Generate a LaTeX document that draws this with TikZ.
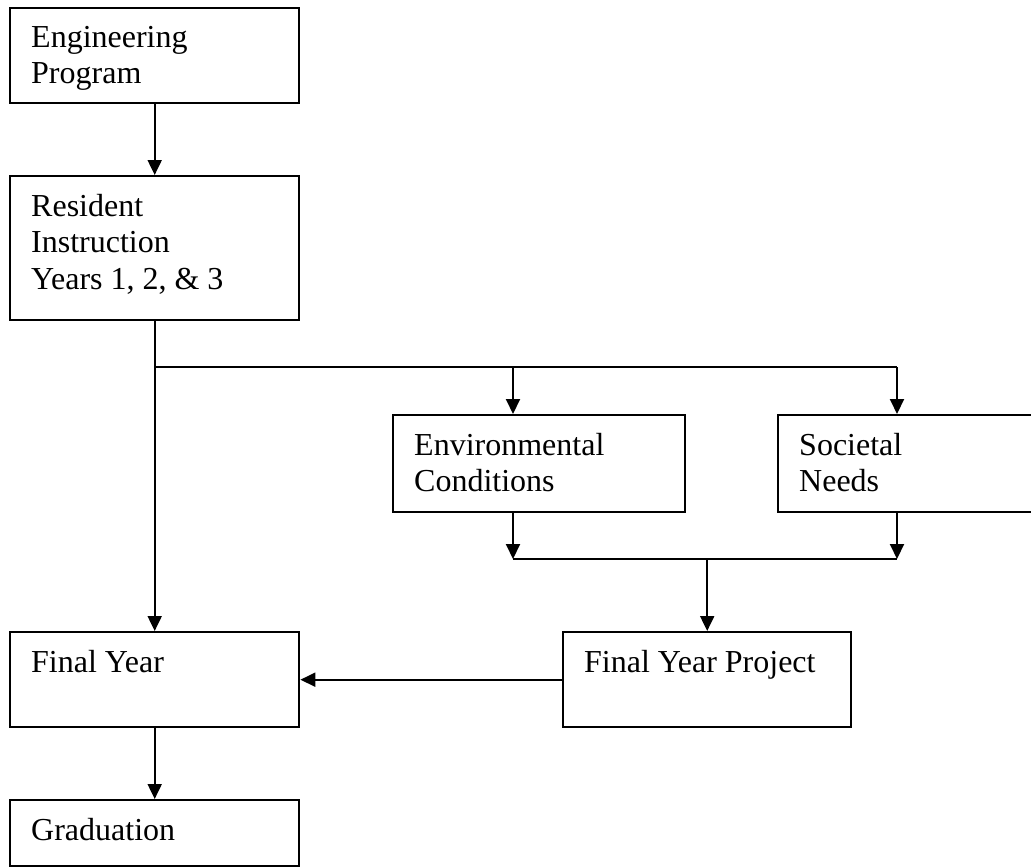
\documentclass[tikz,border=0pt]{standalone}
\usepackage{fontspec}
\setmainfont{Liberation Serif}
\usepackage{tikz}
\usetikzlibrary{positioning,calc,arrows.meta}

% text block inside a box: width, height, text
\newcommand{\blktext}[3]{\parbox[c][#2][t]{#1}{\raggedright #3}}

\tikzset{
    blk/.style={draw, line width=2.4pt, anchor=north west, inner xsep=21pt, inner ysep=18pt,
        font=\fontsize{32}{36.5}\selectfont},
    conn/.style={line width=2pt},
    arr/.style={conn, -{Triangle[length=15pt,width=14pt]}}
}

\begin{document}
\begin{tikzpicture}[x=1pt,y=-1pt]
    \path[use as bounding box, fill=white] (0,0) rectangle (1031,867);

    % Boxes
    \node[blk] (eng)  at (9,7)     {\blktext{247pt}{59pt}{Engineering\\Program}};
    \node[blk] (res)  at (9,175)   {\blktext{247pt}{108pt}{Resident\\Instruction\\Years 1, 2, \& 3}};
    \node[blk] (env)  at (392,414) {\blktext{250pt}{61pt}{Environmental\\Conditions}};
    \node[blk] (soc)  at (777,414) {\blktext{212pt}{61pt}{Societal\\Needs}};
    \node[blk] (fy)   at (9,631)   {\blktext{247pt}{59pt}{Final Year}};
    \node[blk] (fyp)  at (562,631) {\blktext{246pt}{59pt}{Final Year Project}};
    \node[blk] (grad) at (9,799)   {\blktext{247pt}{30pt}{Graduation}};

    % Junctions
    \coordinate (t1) at (513,367);
    \coordinate (t2) at (897,367);
    \coordinate (b1) at (513,559);
    \coordinate (b2) at (897,559);

    % Connectors
    \draw[arr] (eng) -- (res);
    \draw[arr] (res.south) -- (fy.north);
    \draw[conn] (res.south |- t1) -- (t2);
    \draw[arr] (t1) -- (t1 |- env.north);
    \draw[arr] (t2) -- (t2 |- soc.north);
    \draw[arr] (b1 |- env.south) -- (b1);
    \draw[arr] (b2 |- soc.south) -- (b2);
    \draw[conn] (b1) -- (b2);
    \draw[arr] (fyp.north |- b1) -- (fyp.north);
    \draw[arr] (fyp.west) -- (fy.east);
    \draw[arr] (fy) -- (grad);
\end{tikzpicture}
\end{document}
